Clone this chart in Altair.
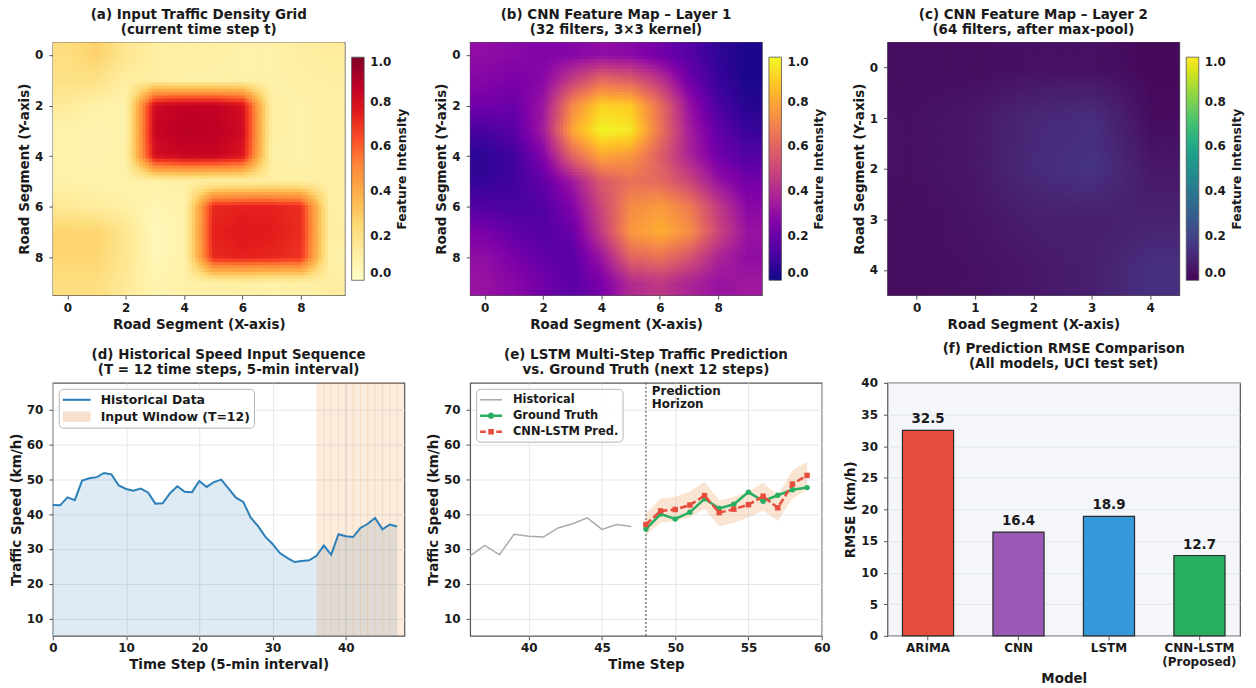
import altair as alt
import pandas as pd

FONT = "DejaVu Sans"
INK = "#1a1a1a"
SPINE = "#555555"

# ---------------- data ----------------
# (a) input traffic density grid (rows = Y segment, cols = X segment)
grid_a = [
    [0.22, 0.28, 0.17, 0.12, 0.11, 0.11, 0.10, 0.10, 0.12, 0.13],
    [0.20, 0.20, 0.12, 0.12, 0.10, 0.10, 0.10, 0.10, 0.11, 0.12],
    [0.14, 0.10, 0.09, 0.82, 0.86, 0.86, 0.80, 0.11, 0.10, 0.11],
    [0.09, 0.08, 0.09, 0.84, 0.88, 0.87, 0.82, 0.11, 0.10, 0.11],
    [0.09, 0.08, 0.10, 0.80, 0.84, 0.84, 0.78, 0.10, 0.10, 0.11],
    [0.10, 0.09, 0.09, 0.10, 0.11, 0.10, 0.11, 0.12, 0.11, 0.11],
    [0.15, 0.13, 0.11, 0.07, 0.09, 0.72, 0.74, 0.74, 0.71, 0.11],
    [0.27, 0.27, 0.17, 0.05, 0.09, 0.74, 0.76, 0.75, 0.72, 0.12],
    [0.26, 0.26, 0.17, 0.06, 0.09, 0.72, 0.74, 0.73, 0.70, 0.10],
    [0.22, 0.22, 0.15, 0.08, 0.10, 0.11, 0.11, 0.10, 0.11, 0.12],
]
# (b) CNN feature map, layer 1
grid_b = [
    [0.30, 0.28, 0.26, 0.27, 0.30, 0.28, 0.22, 0.15, 0.06, 0.02],
    [0.27, 0.24, 0.28, 0.47, 0.62, 0.58, 0.44, 0.22, 0.08, 0.02],
    [0.22, 0.20, 0.33, 0.72, 0.91, 0.89, 0.64, 0.32, 0.12, 0.04],
    [0.12, 0.16, 0.35, 0.80, 0.99, 0.96, 0.66, 0.36, 0.18, 0.08],
    [0.05, 0.10, 0.26, 0.60, 0.80, 0.76, 0.58, 0.38, 0.22, 0.14],
    [0.07, 0.10, 0.18, 0.34, 0.56, 0.64, 0.62, 0.50, 0.32, 0.22],
    [0.14, 0.12, 0.14, 0.26, 0.50, 0.72, 0.77, 0.68, 0.46, 0.28],
    [0.24, 0.18, 0.14, 0.20, 0.46, 0.76, 0.82, 0.74, 0.50, 0.32],
    [0.30, 0.24, 0.18, 0.16, 0.33, 0.60, 0.65, 0.55, 0.38, 0.30],
    [0.32, 0.28, 0.22, 0.16, 0.24, 0.40, 0.45, 0.38, 0.32, 0.34],
]
# (c) CNN feature map, layer 2 (after max-pool)
grid_c = [
    [0.03, 0.03, 0.04, 0.04, 0.02],
    [0.04, 0.06, 0.11, 0.13, 0.03],
    [0.04, 0.06, 0.12, 0.15, 0.06],
    [0.03, 0.05, 0.08, 0.08, 0.09],
    [0.03, 0.04, 0.06, 0.08, 0.14],
]
ticks_10 = [0, 2, 4, 6, 8]
ticks_5 = [0, 1, 2, 3, 4]
cbar_ticks = [0, 0.2, 0.4, 0.6, 0.8, 1.0]
# matplotlib YlOrRd colour stops
ylorrd_stops = [0, 0.125, 0.25, 0.375, 0.5, 0.625, 0.75, 0.875, 1.0]
ylorrd_colors = ["#ffffcc", "#ffeda0", "#fed976", "#feb24c", "#fd8d3c",
                 "#fc4e2a", "#e31a1c", "#bd0026", "#800026"]

# (d) historical speed sequence
hist_t = list(range(48))
hist_speed = [
    42.6, 42.5, 44.8, 44.0, 49.6, 50.3, 50.6, 51.8, 51.4, 48.2,
    47.2, 46.7, 47.3, 46.2, 43.0, 43.1, 46.0, 48.0, 46.4, 46.3,
    49.5, 47.8, 49.2, 49.9, 47.3, 44.7, 43.5, 39.0, 36.6, 33.5,
    31.4, 28.8, 27.4, 26.2, 26.5, 26.7, 28.0, 31.0, 28.3, 34.2,
    33.6, 33.4, 36.0, 37.2, 38.9, 35.6, 37.0, 36.4,
]
window_start = [36]
window_end = [48]

# (e) prediction horizon
pred_t = list(range(48, 60))
gt_speed = [35.7, 40.0, 38.6, 40.5, 44.4, 41.6, 42.8, 46.3, 43.7, 45.4, 47.0, 47.6]
pred_speed = [37.0, 40.9, 41.3, 42.6, 45.3, 40.4, 41.4, 42.7, 45.1, 41.8, 48.6, 51.1]
pred_lower = [34.0, 37.5, 38.0, 39.0, 41.5, 36.5, 37.5, 39.0, 41.0, 38.0, 44.5, 47.0]
pred_upper = [40.0, 44.5, 45.0, 46.5, 49.3, 44.0, 45.0, 46.5, 49.0, 45.5, 52.5, 55.0]
horizon_start = [48]

# (f) RMSE comparison
models = ["ARIMA", "CNN", "LSTM", "CNN-LSTM\n(Proposed)"]
rmse = [32.5, 16.4, 18.9, 12.7]
model_colors = ["#e74c3c", "#9b59b6", "#3498db", "#27ae60"]

# ---------------- heatmap panels ----------------
FX, FY = 88, 76
OVL = 0.03  # tiny overlap between adjacent raster cells (avoids seams)


def heat_panel(grid, color_scale, title, ticks, w, h):
    n = len(grid)
    recs = [{"k": r * n + c, "v": grid[r][c]} for r in range(n) for c in range(n)]
    ch = alt.Chart(alt.sequence(0, FX * FY, as_="i")).transform_calculate(
        ix=f"datum.i % {FX}",
        iy=f"floor(datum.i / {FX})",
        x0=f"datum.ix * {n} / {FX} - 0.5",
        x1=f"(datum.ix + 1) * {n} / {FX} - 0.5 + {OVL}",
        y0=f"datum.iy * {n} / {FY} - 0.5",
        y1=f"(datum.iy + 1) * {n} / {FY} - 0.5 + {OVL}",
        fx=f"clamp((datum.ix + 0.5) * {n} / {FX} - 0.5, 0, {n - 1})",
        fy=f"clamp((datum.iy + 0.5) * {n} / {FY} - 0.5, 0, {n - 1})",
        c0="floor(datum.fx)",
        r0="floor(datum.fy)",
        c1=f"min(datum.c0 + 1, {n - 1})",
        r1=f"min(datum.r0 + 1, {n - 1})",
        tx="datum.fx - datum.c0",
        ty="datum.fy - datum.r0",
        k00=f"datum.r0 * {n} + datum.c0",
        k01=f"datum.r0 * {n} + datum.c1",
        k10=f"datum.r1 * {n} + datum.c0",
        k11=f"datum.r1 * {n} + datum.c1",
    )
    for key, out in [("k00", "v00"), ("k01", "v01"), ("k10", "v10"), ("k11", "v11")]:
        ch = ch.transform_lookup(
            lookup=key,
            from_=alt.LookupData(data=alt.InlineData(values=recs), key="k", fields=["v"]),
            as_=[out],
        )
    ch = ch.transform_calculate(
        val="(1 - datum.ty) * ((1 - datum.tx) * datum.v00 + datum.tx * datum.v01)"
            " + datum.ty * ((1 - datum.tx) * datum.v10 + datum.tx * datum.v11)"
    )
    leg = alt.Legend(
        type="gradient", orient="none", legendX=300, legendY=15, direction="vertical",
        gradientLength=224, gradientThickness=12.6, title=None,
        values=cbar_ticks, format=".1f",
        labelBaseline="middle", labelOffset=6, labelFontSize=12, labelFontWeight="bold",
        gradientStrokeColor=SPINE, gradientStrokeWidth=0.8, padding=0,
    )
    pos = alt.Scale(domain=[-0.5, n - 0.5], nice=False, zero=False)
    heat = ch.mark_rect(clip=True).encode(
        x=alt.X("x0:Q", scale=pos,
                axis=alt.Axis(values=ticks, format="d", grid=False, title="Road Segment (X-axis)")),
        x2="x1:Q",
        y=alt.Y("y0:Q", scale=alt.Scale(domain=[-0.5, n - 0.5], nice=False, zero=False, reverse=True),
                axis=alt.Axis(values=ticks, format="d", grid=False, title="Road Segment (Y-axis)")),
        y2="y1:Q",
        color=alt.Color("val:Q", scale=color_scale, legend=leg),
    )
    # colorbar label, drawn as the title of a bare right-hand axis
    cbar_title = alt.Chart(pd.DataFrame({"z": [0]})).transform_filter("false").mark_point().encode(
        y=alt.Y("z:Q", scale=alt.Scale(domain=[0, 1]),
                axis=alt.Axis(orient="right", title="Feature Intensity", labels=False, ticks=False,
                              domain=False, grid=False, titleAngle=270, titleX=57, titleY=127,
                              titleAlign="center", titleBaseline="middle", titleFontSize=12.5))
    )
    return alt.layer(heat, cbar_title).resolve_scale(y="independent").properties(
        width=w, height=h, title=alt.TitleParams(text=title))


pa = heat_panel(grid_a, alt.Scale(domain=ylorrd_stops, range=ylorrd_colors),
                ["(a) Input Traffic Density Grid", "(current time step t)"], ticks_10, 293, 254)
pb = heat_panel(grid_b, alt.Scale(scheme="plasma", domain=[0, 1]),
                ["(b) CNN Feature Map – Layer 1", "(32 filters, 3×3 kernel)"], ticks_10, 293, 254)
pc = heat_panel(grid_c, alt.Scale(scheme="viridis", domain=[0, 1]),
                ["(c) CNN Feature Map – Layer 2", "(64 filters, after max-pool)"], ticks_5, 293, 254)


# ---------------- legend helper ----------------
def legend_layer(labels, colors, paths, font_size, sym_offset, label_offset):
    df = pd.DataFrame({"lab": labels})
    leg = alt.Legend(
        title=None, orient="none", legendX=6, legendY=6,
        symbolSize=196, symbolOffset=sym_offset, labelOffset=label_offset,
        labelFontSize=font_size, labelFontWeight="bold", labelColor=INK, labelLimit=300,
        symbolStrokeWidth=0, symbolOpacity=1,
        fillColor="rgba(255,255,255,0.85)", strokeColor="#b5b5b5", cornerRadius=4,
        padding=4, rowPadding=3,
    )
    return alt.Chart(df).transform_filter("false").mark_point(filled=True).encode(
        color=alt.Color("lab:N", scale=alt.Scale(domain=labels, range=colors), legend=leg),
        shape=alt.Shape("lab:N", scale=alt.Scale(domain=labels, range=paths), legend=leg),
    )


YDOM = alt.Scale(domain=[5, 77.7], nice=False, zero=False)
YVALS = [10, 20, 30, 40, 50, 60, 70]

# ---------------- (d) ----------------
df_hist = pd.DataFrame({"t": hist_t, "speed": hist_speed})
df_win = pd.DataFrame({"t": window_start, "t2": window_end})
df_hatch = pd.DataFrame({"t": hist_t[window_start[0] + 1:]})


def xd():
    return alt.X("t:Q", scale=alt.Scale(domain=[0, 48], nice=False, zero=False),
                 axis=alt.Axis(values=[0, 10, 20, 30, 40], title="Time Step (5-min interval)"))


def yd(field):
    return alt.Y(f"{field}:Q", scale=YDOM, axis=alt.Axis(values=YVALS, title="Traffic Speed (km/h)"))


d_area = alt.Chart(df_hist).mark_area(color="#1f77b4", opacity=0.15, clip=True).encode(x=xd(), y=yd("speed"))
d_win = alt.Chart(df_win).mark_rect(color="#e67e22", opacity=0.15).encode(x=xd(), x2="t2:Q")
d_hatch = alt.Chart(df_hatch).mark_rule(color="#e67e22", opacity=0.16, strokeWidth=1).encode(x=xd())
d_line = alt.Chart(df_hist).mark_line(color="#2c7fb8", strokeWidth=2).encode(x=xd(), y=yd("speed"))
d_leg = legend_layer(
    ["Historical Data", "Input Window (T=12)"],
    ["#2c7fb8", "#f8e0cc"],
    ["M-2,-0.15H2V0.15H-2Z", "M-2,-0.75H2V0.75H-2Z"],
    12.5, 7, 17,
)
p_d = alt.layer(d_area, d_win, d_hatch, d_line, d_leg).properties(
    width=353, height=254,
    title=alt.TitleParams(text=["(d) Historical Speed Input Sequence", "(T = 12 time steps, 5-min interval)"]),
)

# ---------------- (e) ----------------
df_hist_e = pd.DataFrame({"t": hist_t[36:], "speed": hist_speed[36:]})
df_pred = pd.DataFrame({"t": pred_t, "gt": gt_speed, "pred": pred_speed, "lo": pred_lower, "hi": pred_upper})
df_vline = pd.DataFrame({"t": horizon_start})


def xe():
    return alt.X("t:Q", scale=alt.Scale(domain=[36, 60], nice=False, zero=False),
                 axis=alt.Axis(values=[40, 45, 50, 55, 60], title="Time Step"))


e_band = alt.Chart(df_pred).mark_area(color="#e67e22", opacity=0.2).encode(x=xe(), y=yd("lo"), y2="hi:Q")
e_hist = alt.Chart(df_hist_e).mark_line(color="#aaaaaa", strokeWidth=1.5).encode(x=xe(), y=yd("speed"))
e_vline = alt.Chart(df_vline).mark_rule(color=SPINE, strokeDash=[2, 2], strokeWidth=1.2).encode(x=xe())
e_gt = alt.Chart(df_pred).mark_line(
    color="#27ae60", strokeWidth=2.5,
    point=alt.OverlayMarkDef(filled=True, size=30, color="#27ae60"),
).encode(x=xe(), y=yd("gt"))
e_pred = alt.Chart(df_pred).mark_line(
    color="#e74c3c", strokeWidth=2.5, strokeDash=[7, 3],
    point=alt.OverlayMarkDef(filled=True, shape="square", size=30, color="#e74c3c"),
).encode(x=xe(), y=yd("pred"))
e_text = alt.Chart(df_vline).mark_text(
    text=["Prediction", "Horizon"], align="left", baseline="top", font=FONT,
    fontSize=12, fontWeight="bold", color=INK, lineHeight=13.5,
).encode(x=alt.datum(48.4), y=alt.datum(76.8))
e_leg = legend_layer(
    ["Historical", "Ground Truth", "CNN-LSTM Pred."],
    ["#aaaaaa", "#27ae60", "#e74c3c"],
    [
        "M-1.57,-0.11H1.57V0.11H-1.57Z",
        "M-1.57,-0.18H1.57V0.18H-1.57Z M-0.45,0A0.45,0.45 0 1,1 0.45,0A0.45,0.45 0 1,1 -0.45,0Z",
        "M-1.57,-0.18H-0.75V0.18H-1.57Z M-0.4,-0.4H0.4V0.4H-0.4Z M0.75,-0.18H1.57V0.18H0.75Z",
    ],
    11.5, 4, 15,
)
p_e = alt.layer(e_band, e_hist, e_vline, e_gt, e_pred, e_text, e_leg).properties(
    width=353, height=254,
    title=alt.TitleParams(text=["(e) LSTM Multi-Step Traffic Prediction", "vs. Ground Truth (next 12 steps)"]),
)

# ---------------- (f) ----------------
df_f = pd.DataFrame({"model": models, "rmse": rmse})
f_base = alt.Chart(df_f).encode(
    x=alt.X("model:N", sort=models, scale=alt.Scale(paddingInner=0.435, paddingOuter=0.166),
            axis=alt.Axis(labelAngle=0, labelExpr="split(datum.label, '\\n')", labelLineHeight=14,
                          title="Model", grid=False)),
    y=alt.Y("rmse:Q", scale=alt.Scale(domain=[0, 40], nice=False),
            axis=alt.Axis(values=list(range(0, 45, 5)), title="RMSE (km/h)")),
)
f_bars = f_base.mark_bar(stroke="#2b2b2b", strokeWidth=1.2).encode(
    color=alt.Color("model:N", scale=alt.Scale(domain=models, range=model_colors), legend=None)
)
f_text = f_base.mark_text(baseline="alphabetic", dy=-7, font=FONT, fontSize=13.5,
                          fontWeight="bold", color=INK).encode(text=alt.Text("rmse:Q", format=".1f"))
p_f = alt.layer(f_bars, f_text).properties(
    width=354, height=254,
    title=alt.TitleParams(text=["(f) Prediction RMSE Comparison", "(All models, UCI test set)"]),
)

# ---------------- assemble ----------------
RES = dict(color="independent", shape="independent", x="independent", y="independent")
top = alt.hconcat(pa, pb, pc, spacing=126, bounds="flush").resolve_scale(**RES)
bottom = alt.hconcat(p_d, p_e, p_f, spacing=66, bounds="flush").resolve_scale(**RES)

# nested concat groups count as zero-height in flush mode: spacing = row height + gap
chart = alt.vconcat(top, bottom, spacing=254 + 88, bounds="flush").resolve_scale(**RES).properties(
    padding={"left": 0, "top": -3, "right": 4, "bottom": 2}, background="white"
).configure_view(
    stroke=SPINE, strokeWidth=1.2, fill="#f4f6fa"
).configure_axis(
    domain=False, labelFont=FONT, labelFontSize=12, labelFontWeight="bold", labelColor=INK,
    titleFont=FONT, titleFontSize=13.5, titleFontWeight="bold", titleColor=INK,
    tickColor=SPINE, tickSize=4, gridColor="#dde2ea", gridWidth=0.8,
    labelFlush=False, labelOverlap=False,
).configure_axisX(
    labelPadding=3, titlePadding=4
).configure_axisY(
    labelPadding=6, titlePadding=3
).configure_title(
    font=FONT, fontSize=13.5, fontWeight="bold", color=INK, anchor="middle",
    frame="group", offset=6, lineHeight=15
).configure_legend(
    labelFont=FONT, titleFont=FONT, labelColor=INK, titleColor=INK
)

chart.save("out.html", embed_options={"renderer": "svg", "actions": False})
